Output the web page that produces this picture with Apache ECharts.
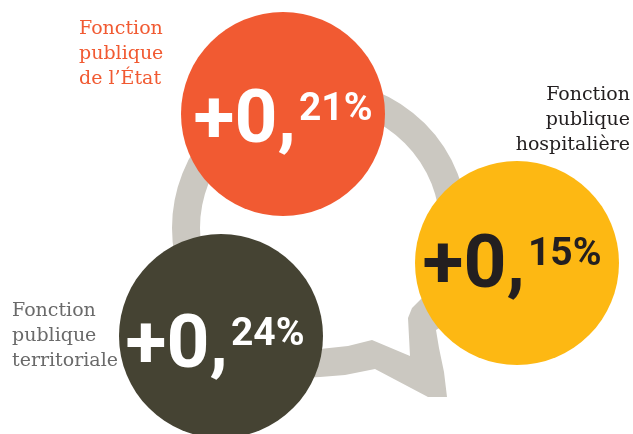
<!DOCTYPE html>
<html>
<head>
<meta charset="utf-8">
<style>
  html, body { margin: 0; padding: 0; background: #ffffff; }
  #chart { width: 633px; height: 434px; }
</style>
<script src="https://cdn.jsdelivr.net/npm/echarts@6/dist/echarts.min.js"></script>
</head>
<body>
<div id="chart"></div>
<script>
// Change in each branch of the French civil service
const categories = [
  'Fonction\npublique\nde l’État',
  'Fonction\npublique\nhospitalière',
  'Fonction\npublique\nterritoriale'
];
const values = [0.21, 0.15, 0.24];   // percent

// Layout: bubble centres (pixel space), value text nudges, name label anchors
const bubbleCenters = [[283, 114], [517, 263], [221, 336]];
const valueOffsets = [[0, 9], [-5, 5], [-6, 12]];
const nameAnchors = [
  { x: 79, y: 17, align: 'left' },
  { x: 630, y: 83, align: 'right' },
  { x: 12, y: 299, align: 'left' }
];
const bubbleColors = ['#f15a32', '#fdb813', '#454333'];
const valueColors = ['#ffffff', '#231f20', '#ffffff'];
const nameColors = ['#f15a32', '#231f20', '#6a6a6a'];
const ringColor = '#cbc8c1';

function splitValue(v) {
  const parts = v.toFixed(2).split('.');
  return { whole: '+' + parts[0] + ',', dec: parts[1] + '%' };
}

const chart = echarts.init(document.getElementById('chart'), null, { renderer: 'canvas' });

const data = values.map((v, i) => {
  const p = splitValue(v);
  return {
    value: bubbleCenters[i].concat([v]),
    itemStyle: { color: bubbleColors[i], opacity: 1 },
    label: {
      offset: valueOffsets[i],
      formatter: '{a|' + p.whole + '}{b|' + p.dec + '}',
      rich: {
        a: { color: valueColors[i], fontSize: 75, fontFamily: 'Roboto', fontWeight: 'bold', lineHeight: 75, verticalAlign: 'top' },
        b: { color: valueColors[i], fontSize: 39, fontFamily: 'Roboto', fontWeight: 'bold', verticalAlign: 'top', padding: [5, 0, 0, 3] }
      }
    }
  };
});

// Grey speech-bubble ring behind the bubbles
const ringGraphics = [
  {
    type: 'arc',
    z: 0,
    silent: true,
    shape: { cx: 320, cy: 228, r: 134, startAngle: Math.PI / 2, endAngle: Math.PI * 2 + Math.PI * 20 / 180, clockwise: true },
    style: { stroke: ringColor, lineWidth: 28, fill: null }
  },
  {
    type: 'polygon',
    z: 0,
    silent: true,
    shape: {
      points: [
        [300, 349], [320, 349], [348, 346], [372, 340], [410, 356],
        [408, 318], [412, 308], [422, 298], [445, 290], [452, 320],
        [436, 330], [439, 348], [444, 372], [447, 397], [428, 397],
        [375, 369], [345, 375], [320, 377], [300, 378]
      ]
    },
    style: { fill: ringColor }
  }
];

const nameGraphics = categories.map((name, i) => ({
  type: 'text',
  z: 5,
  silent: true,
  x: nameAnchors[i].x,
  y: nameAnchors[i].y,
  style: {
    text: name,
    fill: nameColors[i],
    font: '19px "DejaVu Serif"',
    lineHeight: 25,
    align: nameAnchors[i].align,
    verticalAlign: 'top'
  }
}));

chart.setOption({
  animation: false,
  backgroundColor: '#ffffff',
  grid: { left: 0, right: 0, top: 0, bottom: 0 },
  xAxis: { type: 'value', min: 0, max: 633, show: false },
  yAxis: { type: 'value', min: 0, max: 434, inverse: true, show: false },
  graphic: { elements: ringGraphics.concat(nameGraphics) },
  series: [{
    type: 'scatter',
    z: 10,
    symbol: 'circle',
    symbolSize: 204,
    data: data,
    label: { show: true, position: 'inside' },
    emphasis: { disabled: true }
  }]
});
</script>
</body>
</html>
